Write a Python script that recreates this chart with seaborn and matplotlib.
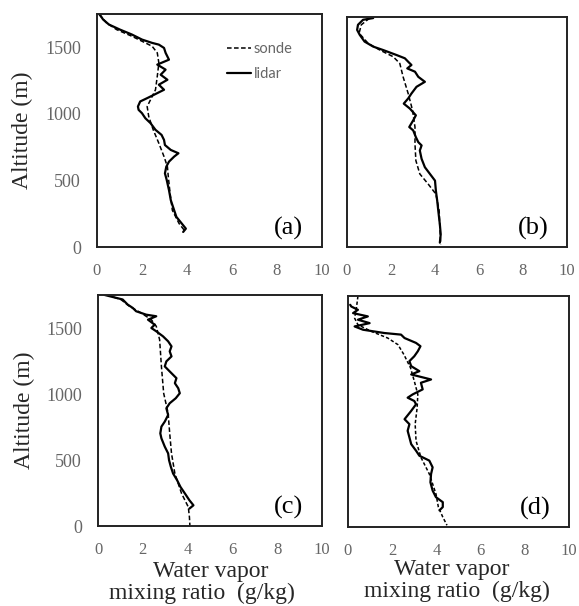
import numpy as np
import pandas as pd
import matplotlib
matplotlib.use("Agg")
import matplotlib.pyplot as plt
from matplotlib.lines import Line2D
import seaborn as sns

# ---------------- data (altitude in m, mixing ratio in g/kg) ----------------
a_lidar_alt = [1747, 1709, 1671, 1633, 1596, 1558, 1533, 1520, 1495, 1458, 1407, 1370, 1332, 1294,
               1256, 1219, 1181, 1143, 1118, 1093, 1055, 1030, 1005, 967, 930, 880, 842, 804, 766,
               729, 704, 679, 641, 603, 553, 503, 427, 352, 276, 226, 176, 138, 113]
a_lidar_mr = [0.12, 0.27, 0.53, 1.02, 1.55, 2.0, 2.45, 2.75, 2.98, 3.05, 3.2, 2.68, 3.05, 2.83,
              3.13, 2.75, 2.98, 2.53, 2.23, 1.92, 1.82, 1.85, 2.0, 2.15, 2.38, 2.6, 2.87, 2.98, 3.02,
              3.28, 3.62, 3.43, 3.2, 3.08, 3.02, 3.1, 3.2, 3.28, 3.43, 3.53, 3.77, 3.95, 3.83]
a_sonde_alt = [1747, 1684, 1633, 1583, 1533, 1508, 1458, 1382, 1282, 1181, 1106, 1055, 980, 880,
               779, 679, 603, 528, 402, 276, 176, 126]
a_sonde_mr = [0.09, 0.42, 0.87, 1.55, 2.15, 2.45, 2.68, 2.75, 2.68, 2.6, 2.38, 2.23, 2.3, 2.5,
              2.75, 2.98, 3.13, 3.17, 3.25, 3.35, 3.65, 3.88]

b_lidar_alt = [1742, 1729, 1691, 1652, 1614, 1563, 1525, 1499, 1461, 1436, 1410, 1385, 1359, 1334,
               1295, 1257, 1219, 1168, 1130, 1091, 1053, 1002, 964, 913, 887, 836, 798, 773, 734,
               671, 607, 556, 505, 428, 352, 275, 173, 97, 33]
b_lidar_mr = [1.19, 0.73, 0.5, 0.46, 0.58, 0.8, 1.19, 1.64, 2.25, 2.63, 2.78, 2.93, 2.74, 3.09,
              3.24, 3.54, 3.16, 2.93, 2.78, 2.58, 2.86, 3.13, 3.01, 2.83, 3.01, 3.13, 3.24, 3.39, 3.31,
              3.39, 3.54, 3.77, 4.0, 4.04, 4.1, 4.15, 4.22, 4.26, 4.22]
b_sonde_alt = [1742, 1691, 1627, 1550, 1499, 1448, 1397, 1295, 1168, 1040, 913, 785, 658, 556,
               479, 403, 275, 148, 20]
b_sonde_mr = [1.03, 0.65, 0.55, 0.96, 1.49, 2.1, 2.4, 2.55, 2.78, 2.98, 3.09, 3.09, 3.13, 3.31,
              3.69, 4.04, 4.19, 4.22, 4.26]

c_lidar_alt = [1750, 1716, 1678, 1652, 1627, 1601, 1589, 1563, 1525, 1500, 1475, 1437, 1399, 1361,
               1323, 1285, 1247, 1209, 1171, 1120, 1082, 1044, 1006, 968, 930, 892, 841, 791, 753,
               702, 664, 601, 550, 499, 449, 398, 347, 296, 246, 195, 157, 132]
c_lidar_mr = [0.3, 1.1, 1.32, 1.55, 1.7, 2.15, 2.6, 2.23, 2.53, 2.38, 2.6, 2.9, 3.13, 3.28,
              3.2, 3.28, 3.05, 2.98, 3.2, 3.5, 3.43, 3.58, 3.65, 3.47, 3.2, 3.05, 3.13, 2.98, 2.83,
              2.78, 2.83, 2.98, 3.13, 3.17, 3.25, 3.35, 3.53, 3.68, 3.88, 4.08, 4.26, 4.08]
c_sonde_alt = [1750, 1716, 1665, 1614, 1563, 1513, 1411, 1209, 1006, 854, 702, 550, 398, 246,
               144, 68, 5]
c_sonde_mr = [0.4, 1.02, 1.4, 1.92, 2.38, 2.6, 2.75, 2.83, 2.93, 3.13, 3.2, 3.28, 3.43, 3.73,
              4.03, 4.08, 4.1]

d_lidar_alt = [1684, 1671, 1646, 1621, 1596, 1571, 1545, 1520, 1495, 1470, 1458, 1432, 1395, 1370,
               1332, 1294, 1257, 1219, 1181, 1156, 1118, 1093, 1043, 1005, 980, 955, 930, 880, 817,
               779, 729, 679, 628, 578, 540, 503, 452, 402, 339, 276, 226, 188, 151, 126]
d_lidar_mr = [0.1, 0.15, 0.45, 0.23, 0.9, 0.45, 0.98, 0.3, 0.68, 1.65, 2.4, 2.56, 3.08, 3.28,
              3.16, 3.0, 2.78, 2.86, 3.23, 2.86, 3.76, 3.3, 3.38, 2.93, 2.7, 3.0, 3.08, 2.86, 2.56,
              2.78, 2.7, 2.78, 2.86, 3.08, 3.23, 3.68, 3.83, 3.76, 3.73, 3.83, 3.98, 4.29, 4.29, 4.14]
d_sonde_alt = [1750, 1709, 1659, 1583, 1533, 1483, 1432, 1382, 1307, 1206, 1106, 1005, 905, 779,
               653, 528, 402, 251, 151, 75, 13]
d_sonde_mr = [0.45, 0.42, 0.38, 0.3, 0.45, 1.05, 1.8, 2.26, 2.53, 2.83, 3.0, 3.16, 3.13, 3.04,
              3.08, 3.3, 3.68, 3.98, 4.09, 4.29, 4.48]

panel_labels = ["(a)", "(b)", "(c)", "(d)"]
x_ticks = [0, 2, 4, 6, 8, 10]
y_ticks = [0, 500, 1000, 1500]
legend_labels = ["sonde", "lidar"]

# ---------------- style ----------------
sns.set_style("white")
plt.rcParams['font.family'] = ['Liberation Serif', 'DejaVu Serif']

fig = plt.figure(figsize=(5.79, 6.06), dpi=100)

# axes rectangles: left, bottom, width, height (figure fraction)
rects = [
    (0.1675, 0.5924, 0.3886, 0.3845),
    (0.5993, 0.5924, 0.3800, 0.3795),
    (0.1693, 0.1320, 0.3869, 0.3812),
    (0.6010, 0.1304, 0.3817, 0.3810),
]
panels = [
    (a_lidar_mr, a_lidar_alt, a_sonde_mr, a_sonde_alt),
    (b_lidar_mr, b_lidar_alt, b_sonde_mr, b_sonde_alt),
    (c_lidar_mr, c_lidar_alt, c_sonde_mr, c_sonde_alt),
    (d_lidar_mr, d_lidar_alt, d_sonde_mr, d_sonde_alt),
]

tick_grey = "#666666"
for i, (rect, (lmr, lalt, smr, salt)) in enumerate(zip(rects, panels)):
    ax = fig.add_axes(rect)
    sdf = pd.DataFrame({"mr": smr, "alt": salt})
    ldf = pd.DataFrame({"mr": lmr, "alt": lalt})
    dash = (0, (3.0, 1.6)) if i != 3 else (0, (2.2, 1.4))
    sns.lineplot(data=sdf, x="mr", y="alt", sort=False, estimator=None, color="black",
                 linewidth=1.1, linestyle=dash, ax=ax)
    sns.lineplot(data=ldf, x="mr", y="alt", sort=False, estimator=None, color="black",
                 linewidth=1.6, ax=ax)
    ax.set_xlim(0, 10)
    ax.set_ylim(0, 1750)
    ax.set_xticks(x_ticks)
    ax.set_yticks(y_ticks)
    ax.set_xlabel("")
    ax.set_ylabel("")
    for s in ax.spines.values():
        s.set_color("#222222")
        s.set_linewidth(1.4)
    ax.tick_params(axis="both", direction="inout", length=7, width=0.9, color="#777777",
                   labelcolor=tick_grey)
    ax.tick_params(axis="x", labelsize=12, pad=8)
    ax.tick_params(axis="y", labelsize=13, pad=8)
    if i in (1, 3):
        ax.set_yticklabels([])
    ax.text(0.915, 0.08, panel_labels[i], transform=ax.transAxes, ha="right", va="center",
            fontsize=19, color="black")
    if i == 0:
        handles = [Line2D([], [], color="black", lw=1.1, linestyle=(0, (3.0, 1.6))),
                   Line2D([], [], color="black", lw=1.6)]
        leg = ax.legend(handles, legend_labels, loc="upper left", bbox_to_anchor=(0.55, 0.905),
                        frameon=False, handlelength=1.7, handletextpad=0.15, labelspacing=0.75,
                        prop={"family": "Lato", "size": 10.5}, borderaxespad=0)
        for t in leg.get_texts():
            t.set_color("#666666")
    if i in (0, 2):
        ax.text(-0.33, 0.5, "Altitude (m)", transform=ax.transAxes, rotation=90,
                ha="center", va="center", fontsize=17)

# x-axis titles
fig.text(211 / 579, 1 - 572 / 606, "Water vapor", ha="center", va="center", fontsize=17)
fig.text(202 / 579, 1 - 593 / 606, "mixing ratio  (g/kg)", ha="center", va="center", fontsize=17)
fig.text(452 / 579, 1 - 570 / 606, "Water vapor", ha="center", va="center", fontsize=17)
fig.text(457 / 579, 1 - 591 / 606, "mixing ratio  (g/kg)", ha="center", va="center", fontsize=17)

fig.savefig("out.png", dpi=100)
